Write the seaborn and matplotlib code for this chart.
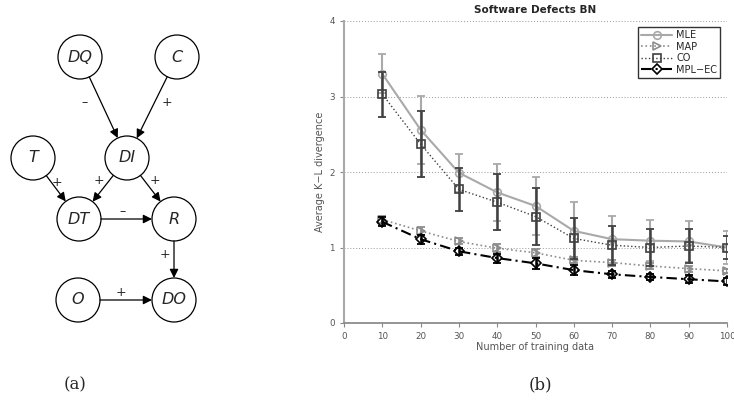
import seaborn as sns
import matplotlib.pyplot as plt
from matplotlib.patches import Circle
import pandas as pd

# training set sizes
n_train = [10, 20, 30, 40, 50, 60, 70, 80, 90, 100]

# average K-L divergence per method and its spread
mle = [3.30, 2.56, 1.99, 1.73, 1.55, 1.22, 1.11, 1.09, 1.08, 1.00]
mle_err = [0.26, 0.45, 0.25, 0.38, 0.39, 0.38, 0.31, 0.27, 0.27, 0.22]
map_ = [1.37, 1.22, 1.08, 0.99, 0.93, 0.83, 0.80, 0.755, 0.72, 0.69]
map_err = [0.05, 0.05, 0.04, 0.05, 0.05, 0.04, 0.04, 0.04, 0.04, 0.03]
co = [3.03, 2.37, 1.77, 1.60, 1.41, 1.12, 1.03, 1.00, 1.02, 1.00]
co_err = [0.30, 0.44, 0.28, 0.37, 0.38, 0.27, 0.26, 0.24, 0.23, 0.15]
mplec = [1.34, 1.11, 0.95, 0.86, 0.79, 0.70, 0.645, 0.61, 0.58, 0.55]
mplec_err = [0.06, 0.06, 0.05, 0.06, 0.07, 0.07, 0.05, 0.04, 0.05, 0.05]

# Bayesian network diagram (panel a)
nodes = {"DQ": (80, 57), "C": (177, 57), "T": (33, 158), "DI": (127, 158),
         "DT": (79, 219), "R": (174, 219), "O": (78, 300), "DO": (174, 300)}
edges = [("DQ", "DI", "\u2013", (85, 103)), ("C", "DI", "+", (167, 103)),
         ("T", "DT", "+", (57, 182)), ("DI", "DT", "+", (99, 181)),
         ("DI", "R", "+", (155, 181)), ("DT", "R", "\u2013", (123, 212)),
         ("R", "DO", "+", (165, 255)), ("O", "DO", "+", (121, 293))]
radius = 22

sns.set_theme(style="white")
plt.rcParams['font.family'] = ['DejaVu Sans']

fig = plt.figure(figsize=(7.34, 4.01), dpi=100)

# ---- panel (a)
axa = fig.add_axes([0, 0, 250 / 734, 1])
axa.set_xlim(0, 250)
axa.set_ylim(401, 0)
axa.axis("off")
for name, (x, y) in nodes.items():
    axa.add_patch(Circle((x, y), radius, facecolor="white", edgecolor="black", lw=0.9))
    axa.text(x, y, name, ha="center", va="center", fontsize=11.5, style="italic")
shrink = radius * 72 / 100  # pixels -> points
for a, b, sign, (lx, ly) in edges:
    axa.annotate("", xy=nodes[b], xytext=nodes[a],
                 arrowprops=dict(arrowstyle="-|>", color="black", lw=0.9,
                                 mutation_scale=13, shrinkA=shrink, shrinkB=shrink))
    axa.text(lx, ly, sign, ha="center", va="center", fontsize=9)

fig.text(75 / 734, 1 - 385 / 401, "(a)", ha="center", va="center",
         fontsize=12, family="DejaVu Serif")
fig.text(540 / 734, 1 - 385 / 401, "(b)", ha="center", va="center",
         fontsize=12, family="DejaVu Serif")

# ---- panel (b)
ax = fig.add_axes([344 / 734, 1 - 323 / 401, 383 / 734, 302 / 401])

series = [
    ("MLE", mle, mle_err, "#a9a9a9", "-", "o", 1.5),
    ("MAP", map_, map_err, "#8c8c8c", ":", ">", 1.2),
    ("CO", co, co_err, "#404040", ":", "s", 1.0),
    ("MPL\u2212EC", mplec, mplec_err, "black", (0, (5, 2, 1, 2)), "D", 1.5),
]
for label, vals, err, col, ls, mk, lw in series:
    df = pd.DataFrame({"n": n_train, "kl": vals})
    ax.errorbar(n_train, vals, yerr=err, fmt="none", ecolor=col,
                elinewidth=1.8 if col != "#a9a9a9" else 1.5, capsize=3, capthick=1.3)
    sns.lineplot(data=df, x="n", y="kl", ax=ax, color=col, linestyle=ls, lw=lw,
                 marker=mk, markersize=5.5 if mk != "D" else 5,
                 markerfacecolor="none", markeredgecolor=col, markeredgewidth=1.2,
                 label=label)

ax.set_xlim(0, 100)
ax.set_ylim(0, 4)
ax.set_xticks(range(0, 101, 10))
ax.set_yticks([0, 1, 2, 3, 4])
ax.yaxis.grid(True, linestyle=(0, (1, 2)), color="#999999", lw=0.7)
ax.tick_params(axis="both", labelsize=6.3, labelcolor="#555555", colors="#888888",
               direction="out", length=3, width=0.8, bottom=True, left=True)
for s in ["top", "right"]:
    ax.spines[s].set_visible(False)
ax.spines["left"].set_color("#aaaaaa")
ax.spines["left"].set_linewidth(1.5)
ax.spines["bottom"].set_color("#888888")
ax.set_xlabel("Number of training data", fontsize=7, color="#555555", labelpad=1)
ax.set_ylabel("Average K\u2212L divergence", fontsize=7, color="#555555", labelpad=3)
ax.set_title("Software Defects BN", fontsize=7.5, fontweight="bold", pad=6)

leg = ax.legend(loc="upper right", fontsize=7, frameon=True, fancybox=False,
                handlelength=3.2, borderpad=0.3, labelspacing=0.15,
                handletextpad=0.4, bbox_to_anchor=(0.995, 0.995))
leg.get_frame().set_edgecolor("black")
leg.get_frame().set_linewidth(1.0)

fig.savefig("out.png", dpi=100)
